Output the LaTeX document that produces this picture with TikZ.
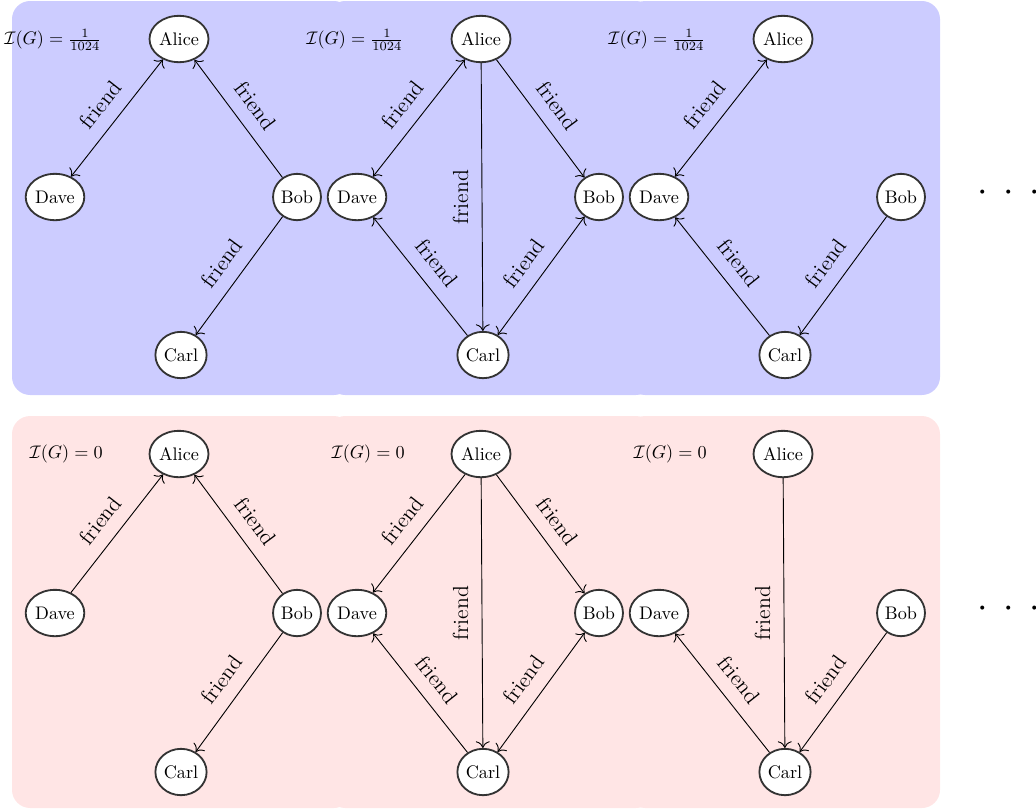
\documentclass[tikz,border=0pt]{standalone}
\usetikzlibrary{arrows.meta,shapes.geometric}
\begin{document}
\begin{tikzpicture}[x=0.55pt,y=-0.55pt,
  >={To[scale=1.35]},
  person/.style={ellipse,draw=black!80,line width=1pt,fill=white,inner sep=0.5pt,minimum height=25.5pt,minimum width=25pt},
  rel/.style={line width=0.5pt},
  lab/.style={sloped,above=4pt,midway,font=\large,inner sep=3.3pt},
  vlab/.style={rotate=90,above=4pt,midway,font=\large,inner sep=3.3pt},
  measure/.style={anchor=east,inner sep=0pt},
  dotsnode/.style={font=\huge,inner sep=0pt}]
\useasboundingbox (0,0) rectangle (1036,810);
% panels
\fill[blue!20,rounded corners=10pt] (12,1) rectangle (352,395);
\fill[blue!20,rounded corners=10pt] (327,1) rectangle (654,395);
\fill[blue!20,rounded corners=10pt] (627,1) rectangle (940,395);
\fill[red!10,rounded corners=10pt] (12,416) rectangle (352,808);
\fill[red!10,rounded corners=10pt] (327,416) rectangle (654,808);
\fill[red!10,rounded corners=10pt] (627,416) rectangle (940,808);
% nodes
\foreach \i/\dx in {1/0,2/302,3/604}{
  \node[person] (A\i) at (179+\dx,39) {Alice};
  \node[person] (D\i) at (55+\dx,197) {Dave};
  \node[person] (B\i) at (297+\dx,197) {Bob};
  \node[person] (C\i) at (181+\dx,355) {Carl};
  \node[measure] (M\i) at (102+\dx,40) {$\mathcal{I}(G)=\frac{1}{1024}$};
}
\foreach \i/\dx in {4/0,5/302,6/604}{
  \node[person] (A\i) at (179+\dx,454) {Alice};
  \node[person] (D\i) at (55+\dx,613) {Dave};
  \node[person] (B\i) at (297+\dx,613) {Bob};
  \node[person] (C\i) at (181+\dx,772) {Carl};
  \node[measure] (M\i) at (103+\dx,454) {$\mathcal{I}(G)=0$};
}
\node[dotsnode,anchor=west] (dotsT) at (977,193) {${\cdot}\hspace{8.5pt}{\cdot}\hspace{8.5pt}{\cdot}$};
\node[dotsnode,anchor=west] (dotsB) at (977,609) {${\cdot}\hspace{8.5pt}{\cdot}\hspace{8.5pt}{\cdot}$};
% top-left
\draw[rel,<->] (D1) -- node[lab]{friend} (A1);
\draw[rel,->] (B1) -- node[lab]{friend} (A1);
\draw[rel,->] (B1) -- node[lab]{friend} (C1);
% top-middle
\draw[rel,<->] (D2) -- node[lab]{friend} (A2);
\draw[rel,->] (A2) -- node[lab]{friend} (B2);
\draw[rel,->] (A2) -- node[vlab]{friend} (C2);
\draw[rel,->] (C2) -- node[lab]{friend} (D2);
\draw[rel,<->] (C2) -- node[lab]{friend} (B2);
% top-right
\draw[rel,<->] (D3) -- node[lab]{friend} (A3);
\draw[rel,->] (C3) -- node[lab]{friend} (D3);
\draw[rel,->] (B3) -- node[lab]{friend} (C3);
% bottom-left
\draw[rel,->] (D4) -- node[lab]{friend} (A4);
\draw[rel,->] (B4) -- node[lab]{friend} (A4);
\draw[rel,->] (B4) -- node[lab]{friend} (C4);
% bottom-middle
\draw[rel,->] (A5) -- node[lab]{friend} (D5);
\draw[rel,->] (A5) -- node[lab]{friend} (B5);
\draw[rel,->] (A5) -- node[vlab]{friend} (C5);
\draw[rel,->] (C5) -- node[lab]{friend} (D5);
\draw[rel,<->] (C5) -- node[lab]{friend} (B5);
% bottom-right
\draw[rel,->] (A6) -- node[vlab]{friend} (C6);
\draw[rel,->] (C6) -- node[lab]{friend} (D6);
\draw[rel,->] (B6) -- node[lab]{friend} (C6);
\end{tikzpicture}
\end{document}
